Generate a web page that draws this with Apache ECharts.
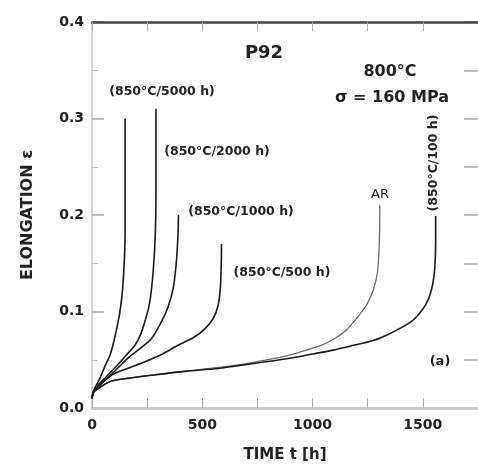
<!DOCTYPE html>
<html>
<head>
<meta charset="utf-8">
<script src="https://cdn.jsdelivr.net/npm/echarts@6/dist/echarts.min.js"></script>
<style>html,body{margin:0;padding:0;background:#fff}#c{width:478px;height:468px}</style>
</head>
<body>
<div id="c"></div>
<script>
// ---- data ----
var xTicks = [0, 500, 1000, 1500];
var yTicks = [0.0, 0.1, 0.2, 0.3, 0.4];

var t5000 = [0, 10, 36, 60, 82, 100, 119, 130, 139, 146, 150, 150];
var e5000 = [0.010, 0.019, 0.031, 0.044, 0.055, 0.070, 0.090, 0.105, 0.124, 0.150, 0.180, 0.300];

var t2000 = [0, 10, 59, 118, 160, 195, 220, 240, 258, 270, 280, 287, 290, 290];
var e2000 = [0.010, 0.019, 0.031, 0.045, 0.056, 0.065, 0.076, 0.090, 0.105, 0.124, 0.150, 0.180, 0.220, 0.310];

var t1000 = [0, 10, 60, 120, 164, 220, 270, 316, 345, 368, 382, 390, 392];
var e1000 = [0.010, 0.018, 0.029, 0.042, 0.052, 0.062, 0.072, 0.090, 0.105, 0.124, 0.150, 0.180, 0.200];

var t500 = [0, 10, 89, 160, 240, 320, 390, 460, 512, 550, 572, 582, 586, 587];
var e500 = [0.010, 0.017, 0.034, 0.041, 0.048, 0.056, 0.065, 0.073, 0.082, 0.093, 0.1065, 0.125, 0.150, 0.170];

var tAR = [0, 10, 40, 89, 170, 270, 420, 572, 700, 882, 1000, 1050, 1100, 1150, 1200, 1245, 1275, 1295, 1303, 1305];
var eAR = [0.012, 0.017, 0.022, 0.028, 0.031, 0.034, 0.038, 0.042, 0.046, 0.054, 0.062, 0.066, 0.072, 0.080, 0.093, 0.107, 0.122, 0.142, 0.175, 0.210];

var t100 = [0, 10, 40, 89, 170, 270, 420, 572, 700, 882, 1000, 1093, 1169, 1275, 1340, 1396, 1450, 1486, 1515, 1533, 1546, 1554, 1558, 1558];
var e100 = [0.012, 0.017, 0.022, 0.028, 0.031, 0.034, 0.038, 0.041, 0.045, 0.051, 0.056, 0.060, 0.064, 0.070, 0.076, 0.0825, 0.090, 0.0985, 0.108, 0.118, 0.130, 0.145, 0.170, 0.199];

function zip(t, e) { return t.map(function (v, i) { return [v, e[i]]; }); }

var F = '"DejaVu Sans", sans-serif';
var chart = echarts.init(document.getElementById('c'), null, { renderer: 'canvas' });

function curve(name, t, e, color, w) {
  return {
    name: name, type: 'line', data: zip(t, e), showSymbol: false, smooth: 0.3,
    lineStyle: { color: color, width: w }, silent: true, animation: false, z: 3
  };
}

chart.setOption({
  animation: false,
  backgroundColor: '#fff',
  grid: { left: 92, top: 22, right: 0, bottom: 58, containLabel: false },
  xAxis: [{
    type: 'value', min: 0, max: 1750, interval: 500, position: 'bottom', z: 1,
    name: 'TIME t [h]', nameLocation: 'middle', nameGap: 40,
    nameTextStyle: { fontFamily: F, fontWeight: 'bold', fontSize: 15, color: '#222' },
    axisLine: { show: true, onZero: false, lineStyle: { color: '#cccccc', width: 3 } },
    axisTick: { show: true, inside: true, length: 10, lineStyle: { color: '#aaa', width: 1 } },
    minorTick: { show: true, splitNumber: 2, length: 10, lineStyle: { color: '#aaa', width: 1 } },
    axisLabel: { showMaxLabel: false, margin: 10, fontFamily: F, fontWeight: 'bold', fontSize: 14, color: '#222',
      formatter: function (v) { return xTicks.indexOf(v) >= 0 ? String(v) : ''; } },
    splitLine: { show: false }
  }, {
    type: 'value', min: 0, max: 1750, interval: 250, position: 'top', z: 4,
    axisLine: { show: true, onZero: false, lineStyle: { color: '#444', width: 2.5 } },
    axisTick: { show: true, inside: true, length: 9, lineStyle: { color: '#aaa', width: 1 } },
    axisLabel: { show: false }, splitLine: { show: false }
  }],
  yAxis: [{
    type: 'value', min: 0, max: 0.4, interval: 0.1, position: 'left', z: 0,
    name: 'ELONGATION ε', nameLocation: 'middle', nameGap: 56,
    nameTextStyle: { fontFamily: F, fontWeight: 'bold', fontSize: 16, color: '#222' },
    axisLine: { show: true, onZero: false, lineStyle: { color: '#c8c8c8', width: 1.5 } },
    axisTick: { show: true, inside: true, length: 12, lineStyle: { color: '#aaa', width: 1.5 } },
    minorTick: { show: true, splitNumber: 2, length: 6, lineStyle: { color: '#bbb', width: 1 } },
    axisLabel: { margin: 8, fontFamily: F, fontWeight: 'bold', fontSize: 14, color: '#222',
      formatter: function (v) { var s = v.toFixed(1); return yTicks.map(function (x) { return x.toFixed(1); }).indexOf(s) >= 0 ? s : ''; } },
    splitLine: { show: false }
  }, {
    type: 'value', min: 0, max: 0.4, interval: 0.05, position: 'right', z: 0,
    axisLine: { show: false, onZero: false },
    axisTick: { show: true, inside: true, length: 14, lineStyle: { color: '#aaa', width: 1.5 } },
    axisLabel: { show: false }, splitLine: { show: false }
  }],
  series: [
    curve('850°C/5000 h', t5000, e5000, '#1a1a1a', 1.6),
    curve('850°C/2000 h', t2000, e2000, '#1a1a1a', 1.6),
    curve('850°C/1000 h', t1000, e1000, '#1a1a1a', 1.6),
    curve('850°C/500 h', t500, e500, '#1a1a1a', 1.6),
    curve('AR', tAR, eAR, '#6a6a6a', 1.3),
    curve('850°C/100 h', t100, e100, '#1a1a1a', 1.6)
  ],
  graphic: [
    { type: 'text', x: 264, y: 53, style: { text: 'P92', font: 'bold 18px ' + F, fill: '#222', align: 'center', verticalAlign: 'middle' } },
    { type: 'text', x: 390, y: 72, style: { text: '800°C', font: 'bold 16px ' + F, fill: '#222', align: 'center', verticalAlign: 'middle' } },
    { type: 'text', x: 392, y: 98, style: { text: 'σ = 160 MPa', font: 'bold 16px ' + F, fill: '#222', align: 'center', verticalAlign: 'middle' } },
    { type: 'text', x: 162, y: 92, style: { text: '(850°C/5000 h)', font: 'bold 12.5px ' + F, fill: '#222', align: 'center', verticalAlign: 'middle' } },
    { type: 'text', x: 217, y: 152, style: { text: '(850°C/2000 h)', font: 'bold 12.5px ' + F, fill: '#222', align: 'center', verticalAlign: 'middle' } },
    { type: 'text', x: 241, y: 212, style: { text: '(850°C/1000 h)', font: 'bold 12.5px ' + F, fill: '#222', align: 'center', verticalAlign: 'middle' } },
    { type: 'text', x: 282, y: 273, style: { text: '(850°C/500 h)', font: 'bold 12.5px ' + F, fill: '#222', align: 'center', verticalAlign: 'middle' } },
    { type: 'text', x: 380, y: 195, style: { text: 'AR', font: '13px ' + F, fill: '#222', align: 'center', verticalAlign: 'middle' } },
    { type: 'text', x: 434, y: 163, rotation: Math.PI / 2, style: { text: '(850°C/100 h)', font: 'bold 12.5px ' + F, fill: '#222', align: 'center', verticalAlign: 'middle' } },
    { type: 'text', x: 440, y: 362, style: { text: '(a)', font: 'bold 13px ' + F, fill: '#222', align: 'center', verticalAlign: 'middle' } }
  ]
});
</script>
</body>
</html>
